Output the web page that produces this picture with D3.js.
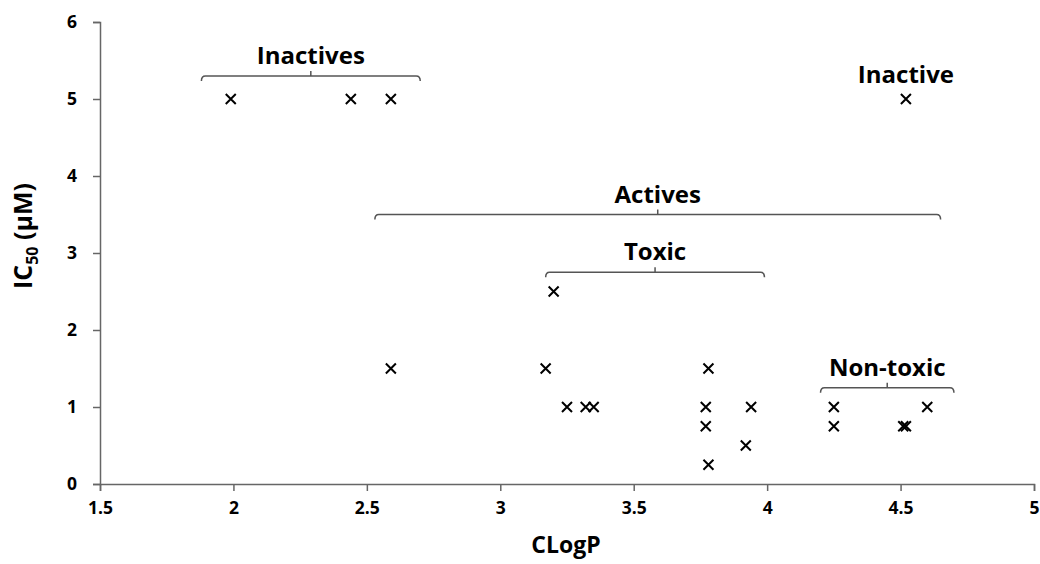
<!DOCTYPE html>
<html><head><meta charset="utf-8">
<script src="https://cdn.jsdelivr.net/npm/d3@7"></script>
<style>body{margin:0;background:#fff}svg{display:block}text{font-family:"Open Sans",sans-serif}</style>
</head><body>
<svg id="c" width="1040" height="564"></svg>
<script>
const clogp = [1.99, 2.44, 2.59, 4.52, 2.59, 3.17, 3.20, 3.25, 3.32, 3.35, 3.78, 3.77, 3.77, 3.78, 3.94, 3.92, 4.25, 4.25, 4.51, 4.52, 4.60];
const ic50  = [5, 5, 5, 5, 1.5, 1.5, 2.5, 1, 1, 1, 1.5, 1, 0.75, 0.25, 1, 0.5, 1, 0.75, 0.75, 0.75, 1];
const xTicks = [1.5, 2, 2.5, 3, 3.5, 4, 4.5, 5];
const yTicks = [0, 1, 2, 3, 4, 5, 6];
const groupLabels = ["Inactives", "Actives", "Toxic", "Non-toxic"];
const groupX0 = [1.88, 2.53, 3.17, 4.20];
const groupX1 = [2.70, 4.65, 3.99, 4.70];
const groupY  = [5.3, 3.5, 2.75, 1.25];
const singleLabel = "Inactive";

const svg = d3.select("#c");
const x = d3.scaleLinear().domain([1.5, 5]).range([100, 1034]);
const y = d3.scaleLinear().domain([0, 6]).range([484, 22]);
const axisColor = "#666";

const gx = svg.append("g").attr("transform", `translate(0,${y(0)})`)
  .call(d3.axisBottom(x).tickValues(xTicks).tickSize(7).tickPadding(11).tickFormat(d3.format("")));
const gy = svg.append("g").attr("transform", `translate(${x(1.5)},0)`)
  .call(d3.axisLeft(y).tickValues(yTicks).tickSize(7).tickPadding(16).tickFormat(d3.format("")));
[gx, gy].forEach(g => {
  g.select(".domain").attr("stroke", axisColor).attr("stroke-width", 1.5);
  g.selectAll(".tick line").attr("stroke", axisColor).attr("stroke-width", 1.5);
  g.selectAll(".tick text").attr("fill", "#000").style("font-size", "17.5px").style("font-weight", "bold");
});

// axis titles
svg.append("text").attr("x", 566).attr("y", 553).attr("text-anchor", "middle")
  .style("font-size", "23px").style("font-weight", "bold").text("CLogP");
const yt = svg.append("text").attr("transform", `translate(32,236) rotate(-90)`)
  .attr("text-anchor", "middle").style("font-size", "25px").style("font-weight", "bold");
yt.append("tspan").text("IC");
yt.append("tspan").attr("dy", 6).style("font-size", "16px").text("50");
yt.append("tspan").attr("dy", -6).text(" (µM)");

// points
const s = 5;
const pts = svg.append("g").attr("stroke", "#000").attr("stroke-width", 2);
clogp.forEach((cx, i) => {
  const px = x(cx), py = y(ic50[i]);
  pts.append("path").attr("d", `M${px-s},${py-s}L${px+s},${py+s}M${px-s},${py+s}L${px+s},${py-s}`);
});

// brackets
const br = svg.append("g").attr("fill", "none").attr("stroke", "#555").attr("stroke-width", 1.5);
groupLabels.forEach((lab, i) => {
  const a = x(groupX0[i]), b = x(groupX1[i]), yy = y(groupY[i]), m = (a+b)/2;
  br.append("path").attr("d", `M${a},${yy+5}Q${a},${yy} ${a+4},${yy}L${b-4},${yy}Q${b},${yy} ${b},${yy+5}M${m},${yy}L${m},${yy-5}`);
  svg.append("text").attr("x", m).attr("y", yy - 12).attr("text-anchor", "middle")
    .style("font-size", "24px").style("font-weight", "bold").text(lab);
});
svg.append("text").attr("x", x(4.52)).attr("y", y(5) - 16).attr("text-anchor", "middle")
  .style("font-size", "24px").style("font-weight", "bold").text(singleLabel);
</script>
</body></html>
